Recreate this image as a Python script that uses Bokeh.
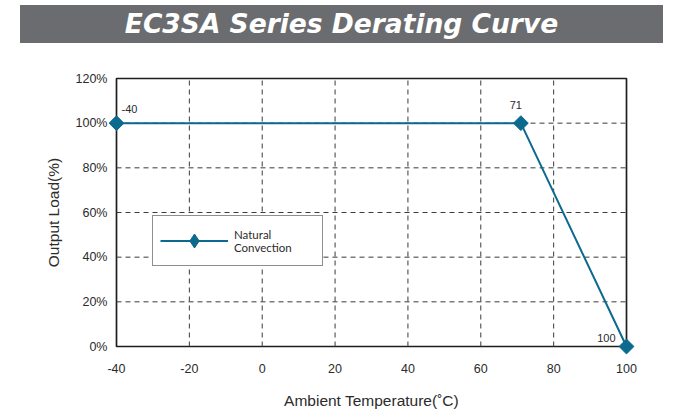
from bokeh.plotting import figure
from bokeh.layouts import column
from bokeh.models import (Range1d, LinearAxis, Label, Legend,
                          LegendItem, FixedTicker, CustomJSTickFormatter, Div)
from bokeh.embed import file_html
from bokeh.resources import INLINE
import math

# ---- data ----
title_text = "EC3SA Series Derating Curve"
temps = [-40, 71, 100]
loads = [100, 100, 0]
point_labels = ["-40", "71", "100"]
series_name = "Natural\nConvection"
x_ticks = [-40, -20, 0, 20, 40, 60, 80, 100]
y_ticks = [0, 20, 40, 60, 80, 100, 120]
x_title = "Ambient Temperature(˚C)"
y_title = "Output Load(%)"

# ---- styles ----
LINE_C = "#0b6a8e"
TXT_C = "#2b2b2b"
FRAME_C = "#1e1e1e"
BAR_C = "#6b6c6f"
TICK_FONT = "Liberation Sans"
W, H = 678, 413
BAR_H = 43

# ---- title bar ----
bar_html = (
    '<div style="margin:5px 0 0 20px;width:643px;height:38px;'
    f'background:{BAR_C};color:white;display:flex;align-items:center;'
    'justify-content:center;font-family:\'DejaVu Sans\';font-style:italic;'
    'font-weight:bold;font-size:26.5px;line-height:38px;white-space:nowrap;">'
    f'{title_text}</div>'
)
title_div = Div(text=bar_html, width=W, height=BAR_H, margin=0)

# ---- main chart ----
x0, x1 = x_ticks[0], x_ticks[-1]
y0, y1 = y_ticks[0], y_ticks[-1]
PAD = 8  # px of breathing room so edge markers are not clipped
fw, fh = 510, 268  # pixel size of the plot box
xpad = PAD * (x1 - x0) / fw
ypad = PAD * (y1 - y0) / fh

p = figure(width=W, height=H - BAR_H, output_backend="svg",
           toolbar_location=None,
           x_range=Range1d(x0 - xpad, x1 + xpad),
           y_range=Range1d(y0 - ypad, y1 + ypad),
           min_border_left=108, min_border_right=44, min_border_top=27,
           min_border_bottom=59, x_axis_location=None, y_axis_location=None,
           margin=0)
p.grid.visible = False
p.outline_line_color = None
p.background_fill_color = "white"
p.border_fill_color = "white"


def make_axis():
    ax = LinearAxis()
    ax.axis_line_color = None
    ax.major_tick_line_color = None
    ax.minor_tick_line_color = None
    ax.major_tick_in = 0
    ax.major_tick_out = 0
    ax.major_label_text_font = TICK_FONT
    ax.major_label_text_color = TXT_C
    ax.major_label_text_font_size = "12.5px"
    ax.axis_label_text_font = TICK_FONT
    ax.axis_label_text_font_style = "normal"
    ax.axis_label_text_color = TXT_C
    ax.axis_label_text_font_size = "15.5px"
    return ax


xb = make_axis()
xb.ticker = FixedTicker(ticks=x_ticks)
xb.formatter = CustomJSTickFormatter(code="return String(tick);")
xb.axis_label = x_title
xb.major_label_standoff = 9
xb.axis_label_standoff = 16
p.add_layout(xb, "below")

yl = make_axis()
yl.ticker = FixedTicker(ticks=y_ticks)
yl.formatter = CustomJSTickFormatter(code="return String(tick) + '%';")
yl.axis_label = y_title
yl.major_label_standoff = 1
yl.axis_label_standoff = 11
p.add_layout(yl, "left")

# plot box outline
p.quad(left=[x0], right=[x1], bottom=[y0], top=[y1], fill_color=None,
       line_color=FRAME_C, line_width=1.7)

# dashed grid, limited to the plot box
gx = x_ticks[1:-1]
gy = y_ticks[1:-1]
grid_style = dict(line_color="#3a3a3a", line_dash="5 4", line_width=1)
p.segment(x0=gx, y0=[y0] * len(gx), x1=gx, y1=[y1] * len(gx), **grid_style)
p.segment(x0=[x0] * len(gy), y0=gy, x1=[x1] * len(gy), y1=gy, **grid_style)

# series
ln = p.line(temps, loads, line_color=LINE_C, line_width=2)
mk = p.scatter(temps, loads, marker="square", angle=math.pi / 4, size=10.5,
               fill_color=LINE_C, line_color=LINE_C)
# legend swatch marker (legend glyphs ignore rotation): hidden diamond copy
mk_leg = p.scatter(temps, loads, marker="diamond", fill_color=LINE_C,
                   line_color=LINE_C, visible=False)

# point annotations
offs = [(5, 10, "left"), (-5, 14, "center"), (-11, 5, "right")]
for t, l, s, (dx, dy, al) in zip(temps, loads, point_labels, offs):
    p.add_layout(Label(x=t, y=l, text=s, x_offset=dx, y_offset=dy,
                       text_font=TICK_FONT, text_font_size="11px",
                       text_color=TXT_C, text_align=al,
                       text_baseline="bottom"))

leg = Legend(items=[LegendItem(label=series_name, renderers=[ln, mk_leg])],
             location=(44, 88), padding=7, glyph_width=68, glyph_height=35,
             label_standoff=6, label_width=81, spacing=0, margin=0,
             border_line_color=FRAME_C, border_line_width=1.5,
             background_fill_color="white", background_fill_alpha=1,
             inactive_fill_alpha=0,
             label_text_font="Lato", label_text_font_size="11.5px",
             label_text_line_height=1.5, label_text_color=TXT_C)
p.add_layout(leg, "center")

layout = column(title_div, p, spacing=0, margin=0)
open("out.html", "w").write(file_html(layout, INLINE))
